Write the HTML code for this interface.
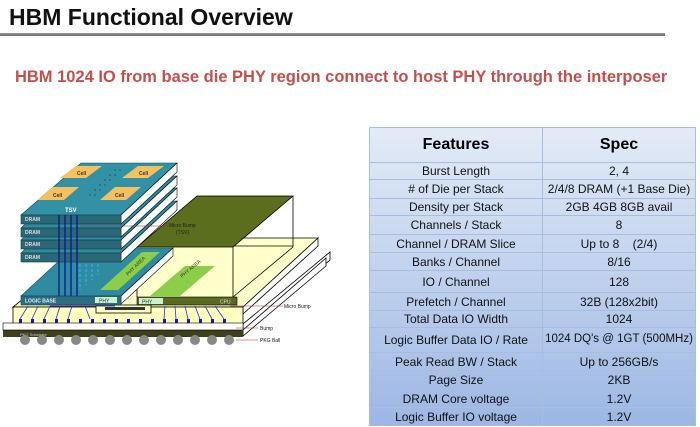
<!DOCTYPE html>
<html><head><meta charset="utf-8"><style>
html,body{margin:0;padding:0;background:#fff;width:700px;height:427px;overflow:hidden;position:relative;font-family:"Liberation Sans",sans-serif}
.t{position:absolute;left:9px;top:4px;font-size:23px;font-weight:bold;color:#111;letter-spacing:0px}
.ln{position:absolute;left:0;top:33px;width:665px;height:3px;background:linear-gradient(#9a9a9a,#6a6a6a)}
.s{position:absolute;left:15px;top:68px;width:652px;font-size:16.5px;font-weight:bold;color:#c0504d;white-space:nowrap;letter-spacing:-0.01px}
table{position:absolute;left:369px;top:127px;width:327px;height:296px;border-collapse:collapse;background:linear-gradient(#e3ebf6,#9cb7e4);border:1px solid #8aa2c4}
td{border:1px solid #a9bede;text-align:center;font-size:12px;color:#111;padding:0;line-height:1;white-space:nowrap}
th{border:1px solid #a9bede;font-size:16px;font-weight:bold;height:32px}
</style></head><body>
<div class="t">HBM Functional Overview</div>
<div class="ln"></div>
<div class="s">HBM 1024 IO from base die PHY region connect to host PHY through the interposer</div>
<svg width="350" height="350" style="position:absolute;left:0;top:0" font-family="Liberation Sans,sans-serif">
<polygon points="243,324 243,332 330,260 330,252" fill="#fff" stroke="#000" stroke-width="0.8"/>
<polygon points="243,330 243,336 326,266 326,258" fill="#fff" stroke="#000" stroke-width="0.8"/>
<polygon points="13,307 243,307 318,238 100,238" fill="#ffffcc" stroke="#000" stroke-width="0.8"/>
<polygon points="243,307 318,238 318,246 243,314" fill="#fff" stroke="#000" stroke-width="0.8"/>
<rect x="3" y="330" width="240" height="7" fill="#3f3f1c"/>
<text x="20" y="336" font-size="4" fill="#ccc">PKG Substrate</text>
<g fill="#888">
<circle cx="25" cy="340" r="5"/><circle cx="42" cy="340" r="5"/><circle cx="59" cy="340" r="5"/><circle cx="76" cy="340" r="5"/><circle cx="93" cy="340" r="5"/><circle cx="110" cy="340" r="5"/><circle cx="127" cy="340" r="5"/><circle cx="144" cy="340" r="5"/><circle cx="161" cy="340" r="5"/><circle cx="178" cy="340" r="5"/><circle cx="195" cy="340" r="5"/><circle cx="212" cy="340" r="5"/><circle cx="229" cy="340" r="5"/></g>
<rect x="13" y="307" width="230" height="17" fill="#ffffc0" stroke="#000" stroke-width="0.8"/>
<rect x="3" y="323" width="240" height="7" fill="#fff" stroke="#000" stroke-width="0.6"/>
<g fill="#1a1a9a">
<rect x="19" y="319" width="3" height="4"/><rect x="31" y="319" width="3" height="4"/><rect x="43" y="319" width="3" height="4"/><rect x="55" y="319" width="3" height="4"/><rect x="67" y="319" width="3" height="4"/><rect x="79" y="319" width="3" height="4"/><rect x="91" y="319" width="3" height="4"/><rect x="103" y="319" width="3" height="4"/><rect x="115" y="319" width="3" height="4"/><rect x="127" y="319" width="3" height="4"/><rect x="139" y="319" width="3" height="4"/><rect x="151" y="319" width="3" height="4"/><rect x="163" y="319" width="3" height="4"/><rect x="175" y="319" width="3" height="4"/><rect x="187" y="319" width="3" height="4"/><rect x="199" y="319" width="3" height="4"/><rect x="211" y="319" width="3" height="4"/><rect x="223" y="319" width="3" height="4"/></g>
<g stroke="#2233cc" stroke-width="0.8">
<line x1="28" y1="306" x2="20" y2="319"/><line x1="38" y1="306" x2="32" y2="319"/><line x1="50" y1="306" x2="44" y2="319"/><line x1="60" y1="306" x2="56" y2="319"/><line x1="72" y1="306" x2="68" y2="319"/><line x1="85" y1="306" x2="90" y2="319"/>
<line x1="165" y1="306" x2="164" y2="319"/><line x1="175" y1="306" x2="176" y2="319"/><line x1="185" y1="306" x2="188" y2="319"/><line x1="195" y1="306" x2="200" y2="319"/><line x1="205" y1="306" x2="212" y2="319"/><line x1="215" y1="306" x2="224" y2="319"/></g>
<rect x="96" y="305" width="55" height="8" fill="#ffffc0" stroke="#000" stroke-width="0.8"/>
<rect x="105" y="307" width="40" height="3" fill="#333"/>
<polygon points="150,296 180,296 215,266 185,266" fill="#8ccd4a"/>
<line x1="197" y1="196" x2="197" y2="246" stroke="#000" stroke-width="0.8"/>
<line x1="293" y1="196" x2="293" y2="247" stroke="#000" stroke-width="0.8"/>
<line x1="197" y1="246" x2="293" y2="246" stroke="#000" stroke-width="0.8"/>
<line x1="137" y1="247" x2="137" y2="297" stroke="#000" stroke-width="0.8"/>
<line x1="233" y1="247" x2="233" y2="297" stroke="#000" stroke-width="0.8"/>
<line x1="233" y1="297" x2="293" y2="247" stroke="#000" stroke-width="0.8"/>
<rect x="137" y="297" width="100" height="8" fill="#5a6b1e" stroke="#000" stroke-width="0.6"/>
<rect x="139" y="298" width="24" height="6" fill="#ccf0cc"/>
<text x="142" y="303.5" font-size="5" fill="#333">PHY</text>
<text x="220" y="303.5" font-size="5" fill="#ddd">CPU</text>
<polygon points="21,296 121,296 173,248 73,248" fill="#2f8ca0" stroke="#1a4a55" stroke-width="0.6"/>
<polygon points="121,296 173,248 173,256 121,304" fill="#fff" stroke="#000" stroke-width="0.6"/>
<polygon points="100,290 118,290 160,252 142,252" fill="#8ccd4a"/>
<text x="128" y="276" font-size="5" fill="#333" transform="rotate(-45 128 276)">PHY AREA</text>
<rect x="21" y="296" width="100" height="9" fill="#2a6f80" stroke="#1a3a44" stroke-width="0.6"/>
<rect x="95" y="297" width="22" height="6" fill="#ccf0cc"/>
<text x="99" y="302.5" font-size="5" fill="#333">PHY</text>
<text x="25" y="302.5" font-size="5" fill="#eee" font-weight="bold">LOGIC  BASE</text>
<line x1="50" y1="306" x2="115" y2="306" stroke="#6633aa" stroke-width="1"/>
<polygon points="137,247 197,196 293,196 233,247" fill="#5a6e1e" stroke="#000" stroke-width="0.8"/>
<text x="182" y="278" font-size="5" fill="#333" transform="rotate(-40 182 278)">PHY AREA</text>
<g stroke-width="0.6">
<polygon points="21,253 121,253 177,201 77,201" fill="#2f8ca0" stroke="#1a4a55"/>
<polygon points="121,253 177,201 177,210 121,262" fill="#fff" stroke="#000"/>
<rect x="21" y="253" width="100" height="9" fill="#2a6878" stroke="#163a44"/>
<polygon points="21,240 121,240 177,188 77,188" fill="#2f8ca0" stroke="#1a4a55"/>
<polygon points="121,240 177,188 177,197 121,249" fill="#fff" stroke="#000"/>
<rect x="21" y="240" width="100" height="9" fill="#2a6878" stroke="#163a44"/>
<polygon points="21,228 121,228 177,176 77,176" fill="#2f8ca0" stroke="#1a4a55"/>
<polygon points="121,228 177,176 177,185 121,237" fill="#fff" stroke="#000"/>
<rect x="21" y="228" width="100" height="9" fill="#2a6878" stroke="#163a44"/>
<polygon points="21,215 121,215 177,163 81,163" fill="#3391a6" stroke="#1a4a55"/>
<polygon points="121,215 177,163 177,172 121,224" fill="#fff" stroke="#000"/>
<rect x="21" y="215" width="100" height="9" fill="#2a6878" stroke="#163a44"/>
</g>
<g fill="#f5c060">
<polygon points="60,178 86,178 102,166 76,166"/><polygon points="122,178 148,178 164,166 138,166"/>
<polygon points="38,200 64,200 79,187 53,187"/><polygon points="100,200 126,200 141,187 115,187"/></g>
<g fill="#2a6070"><circle cx="95" cy="190" r="0.9"/><circle cx="100" cy="185" r="0.9"/><circle cx="105" cy="180" r="0.9"/><circle cx="110" cy="175" r="0.9"/><circle cx="115" cy="170" r="0.9"/><circle cx="90" cy="195" r="0.9"/><circle cx="100" cy="190" r="0.9"/><circle cx="105" cy="185" r="0.9"/><circle cx="110" cy="180" r="0.9"/><circle cx="115" cy="175" r="0.9"/><circle cx="120" cy="170" r="0.9"/><circle cx="95" cy="195" r="0.9"/></g>
<g font-size="5" fill="#333" font-weight="bold"><text x="77" y="175">Cell</text><text x="139" y="175">Cell</text><text x="53" y="197">Cell</text><text x="115" y="197">Cell</text></g>
<text x="65" y="212" font-size="6" fill="#fff" font-weight="bold">TSV</text>
<g font-size="5" fill="#ddd" font-weight="bold"><text x="25" y="221">DRAM</text><text x="25" y="234">DRAM</text><text x="25" y="246">DRAM</text><text x="25" y="259">DRAM</text></g>
<g stroke="#0a1a8a" stroke-width="1.3"><line x1="59" y1="215" x2="59" y2="296"/><line x1="65" y1="215" x2="65" y2="296"/><line x1="71" y1="215" x2="71" y2="296"/><line x1="77" y1="215" x2="77" y2="296"/></g>
<g stroke="#2ab0f0" stroke-width="1.2" stroke-dasharray="3,2"><line x1="80" y1="264" x2="80" y2="290"/><line x1="86" y1="264" x2="86" y2="285"/><line x1="92" y1="264" x2="92" y2="280"/><line x1="98" y1="264" x2="98" y2="275"/></g>
<g stroke="#a03030" stroke-width="0.6"><line x1="80" y1="226" x2="168" y2="226"/><line x1="230" y1="306" x2="283" y2="306"/><line x1="236" y1="328" x2="258" y2="328"/><line x1="236" y1="340" x2="258" y2="340"/></g>
<g font-size="5" fill="#222"><text x="169" y="227">Micro Bump</text><text x="176" y="234">(TSV)</text><text x="284" y="308">Micro Bump</text><text x="260" y="330">Bump</text><text x="260" y="342">PKG Ball</text></g>
</svg>
<table>
<tr><th>Features</th><th>Spec</th></tr>
<tr style="height:17px"><td style="width:172px">Burst Length</td><td>2, 4</td></tr>
<tr style="height:19px"><td># of Die per Stack</td><td>2/4/8 DRAM (+1 Base Die)</td></tr>
<tr style="height:17px"><td>Density per Stack</td><td>2GB 4GB 8GB avail</td></tr>
<tr style="height:19px"><td>Channels / Stack</td><td>8</td></tr>
<tr style="height:18px"><td>Channel / DRAM Slice</td><td>Up to 8 &nbsp;&nbsp;&nbsp;(2/4)</td></tr>
<tr style="height:18px"><td>Banks / Channel</td><td>8/16</td></tr>
<tr style="height:22px"><td>IO / Channel</td><td>128</td></tr>
<tr style="height:18px"><td>Prefetch / Channel</td><td>32B (128x2bit)</td></tr>
<tr style="height:17px"><td>Total Data IO Width</td><td>1024</td></tr>
<tr style="height:25px"><td>Logic Buffer Data IO / Rate</td><td style="font-size:11.5px">1024 DQ's @ 1GT (500MHz)</td></tr>
<tr style="height:18px"><td>Peak Read BW / Stack</td><td>Up to 256GB/s</td></tr>
<tr style="height:19px"><td>Page Size</td><td>2KB</td></tr>
<tr style="height:18px"><td>DRAM Core voltage</td><td>1.2V</td></tr>
<tr style="height:18px"><td>Logic Buffer IO voltage</td><td>1.2V</td></tr>
</table>
</body></html>
